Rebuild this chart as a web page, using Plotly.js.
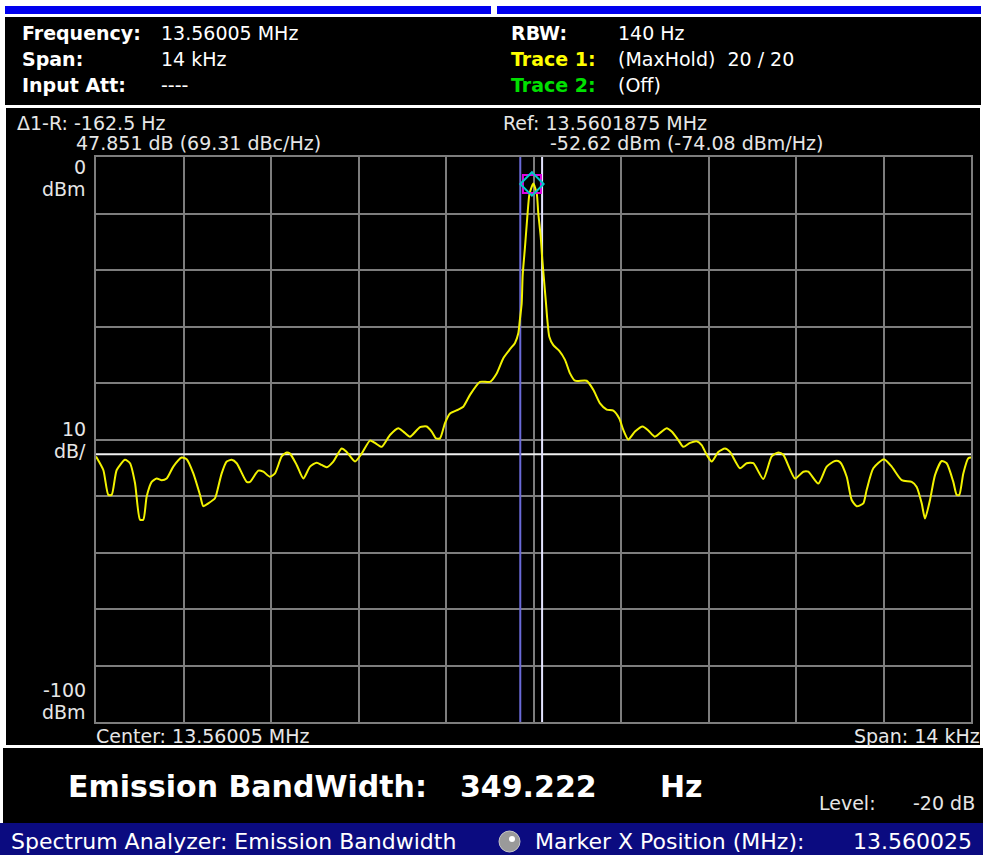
<!DOCTYPE html>
<html><head><meta charset="utf-8">
<script src="https://cdn.plot.ly/plotly-3.0.1.min.js"></script>
<style>html,body{margin:0;padding:0;background:#ffffff;}#chart{width:983px;height:855px;}</style>
</head><body><div id="chart"></div><script>
// ---- data (frequency offset from center 13.56005 MHz, in Hz; level in dBm) ----
const freqOffsetHz = [-7000,-6883,-6803,-6749,-6669,-6536,-6456,-6376,-6296,-6243,
-6189,-6109,-6029,-5949,-5869,-5763,-5629,-5549,-5443,-5336,
-5283,-5203,-5096,-5069,-4989,-4909,-4829,-4749,-4589,-4536,
-4403,-4323,-4216,-4136,-4029,-3949,-3896,-3789,-3683,-3576,
-3469,-3389,-3309,-3203,-3069,-2989,-2856,-2749,-2616,-2536,
-2429,-2296,-2163,-2083,-1976,-1816,-1709,-1629,-1560,-1496,
-1416,-1336,-1203,-1123,-1016,-856,-696,-589,-483,-376,
-296,-243,-216,-189,-173,-136,-99,-67,-29,-3,
51,77,115,141,200,221,253,317,413,504,
584,664,851,957,1064,1171,1277,1373,1437,1517,
1624,1747,1837,1944,2051,2131,2211,2317,2397,2504,
2611,2691,2771,2851,2957,3064,3144,3304,3411,3517,
3677,3811,3917,3997,4184,4317,4397,4557,4691,4824,
4904,5011,5091,5171,5277,5331,5437,5608,5731,5891,
6051,6131,6211,6264,6344,6424,6531,6611,6717,6771,
6813,6877,6957,7000];
const traceDbm = [-53.0,-55.4,-59.8,-59.8,-55.4,-53.6,-54.2,-57.7,-64.2,-64.2,
-60.1,-57.5,-56.9,-57.2,-56.9,-54.8,-53.2,-53.5,-56.0,-59.8,
-61.8,-61.3,-60.4,-59.5,-56.0,-53.9,-53.6,-54.2,-57.5,-57.5,
-55.5,-55.7,-56.6,-56.0,-53.0,-52.3,-52.5,-54.5,-56.9,-54.8,
-54.1,-54.5,-54.9,-53.9,-51.6,-52.2,-53.9,-52.5,-50.2,-50.6,
-51.3,-49.2,-48.0,-48.6,-49.5,-47.8,-47.7,-48.6,-49.8,-49.8,
-47.1,-45.4,-44.7,-44.2,-42.1,-39.8,-39.8,-38.3,-35.6,-34.0,
-32.9,-31.2,-28.6,-25.9,-20.9,-15.9,-10.6,-6.7,-5.3,-4.7,
-6.4,-10.0,-14.1,-18.2,-25.9,-28.8,-31.8,-33.3,-34.3,-35.9,
-38.3,-39.6,-39.6,-41.2,-43.6,-44.7,-44.9,-46.3,-48.3,-50.0,
-48.6,-47.7,-48.4,-49.5,-48.6,-48.0,-48.6,-50.1,-51.3,-50.6,
-50.3,-51.0,-52.7,-53.9,-52.2,-51.6,-52.2,-55.1,-54.2,-54.2,
-57.0,-53.0,-52.3,-52.7,-56.9,-55.7,-55.7,-57.8,-54.8,-53.8,
-54.0,-56.6,-60.7,-61.8,-61.3,-58.9,-55.1,-53.5,-54.8,-57.2,
-57.5,-58.4,-61.3,-64.0,-60.7,-56.3,-53.8,-54.2,-57.5,-59.8,
-59.8,-56.0,-53.3,-53.2];
const spanHz = [-7000, 7000];
const levelRange = [-100, 0];
const refLevelDbm = -52.62;
const ebwLeftHz = -211.7;
const ebwRightHz = 137.5;
const markerHz = [-25];
const markerDbm = [-4.77];

// info texts
const infoLeftLabels = ["Frequency:", "Span:", "Input Att:"];
const infoLeftValues = ["13.56005 MHz", "14 kHz", "----"];
const infoRightLabels = ["RBW:", "Trace 1:", "Trace 2:"];
const infoRightValues = ["140 Hz", "(MaxHold)  20 / 20", "(Off)"];
const infoRightColors = ["#ffffff", "#ffff00", "#00e000"];

// ---- layout helpers (pixel -> paper) ----
const W = 983, H = 855, L = 96, R = 971, T = 157, B = 722;
const px = x => (x - L) / (R - L);
const py = y => (B - y) / (B - T);
const FONT = "DejaVu Sans, Verdana, sans-serif";

function rect(x0, y0, x1, y1, color) {
  return {type: 'rect', xref: 'paper', yref: 'paper', x0: px(x0), x1: px(x1), y0: py(y1), y1: py(y0),
          fillcolor: color, line: {width: 0}, layer: 'below'};
}
function txt(text, x, y, size, color, opts) {
  opts = opts || {};
  return Object.assign({text: text, xref: 'paper', yref: 'paper', x: px(x), y: py(y),
          xanchor: 'left', yanchor: 'middle', showarrow: false, borderpad: 0,
          font: {family: FONT, size: size, color: color}}, opts);
}

const shapes = [
  rect(5, 6, 491, 14, '#0000ee'),
  rect(497, 6, 981, 14, '#0000ee'),
  rect(5, 17, 981, 105, '#000000'),
  rect(6, 108, 980, 745, '#000000'),
  rect(3, 748, 983, 823, '#000000'),
  rect(0, 823, 983, 855, '#0b0b80'),
  {type: 'circle', xref: 'paper', yref: 'paper', x0: px(499), x1: px(520), y0: py(852), y1: py(831),
   fillcolor: '#9a9a9a', line: {color: '#c8c8c8', width: 1}, layer: 'above'},
  {type: 'circle', xref: 'paper', yref: 'paper', x0: px(509), x1: px(515), y0: py(842), y1: py(836),
   fillcolor: '#ffffff', line: {width: 0}, layer: 'above'}
];

const annotations = [];
const rowsY = [33, 59, 85];
for (let i = 0; i < 3; i++) {
  annotations.push(txt('<b>' + infoLeftLabels[i] + '</b>', 21, rowsY[i], 19, '#ffffff'));
  annotations.push(txt(infoLeftValues[i], 160, rowsY[i], 19, '#ffffff'));
  annotations.push(txt('<b>' + infoRightLabels[i] + '</b>', 510, rowsY[i], 19, infoRightColors[i]));
  annotations.push(txt(infoRightValues[i], 617, rowsY[i], 19, '#ffffff'));
}
const lc = '#e6e6e6';
annotations.push(txt('Δ1-R: -162.5 Hz', 16, 123, 19, lc));
annotations.push(txt('47.851 dB (69.31 dBc/Hz)', 75, 143, 19, lc));
annotations.push(txt('Ref: 13.5601875 MHz', 502, 123, 19, lc));
annotations.push(txt('-52.62 dBm (-74.08 dBm/Hz)', 549, 143, 19, lc));
const yLab = [['0', 167], ['dBm', 189], ['10', 429], ['dB/', 451], ['-100', 690], ['dBm', 712]];
yLab.forEach(d => annotations.push(txt(d[0], 87, d[1], 19, lc, {xanchor: 'right'})));
annotations.push(txt('Center: 13.56005 MHz', 95, 736, 19, lc));
annotations.push(txt('Span: 14 kHz', 981, 736, 19, lc, {xanchor: 'right'}));
annotations.push(txt('<b>Emission BandWidth:</b>', 67, 786, 30, '#ffffff'));
annotations.push(txt('<b>349.222</b>', 459, 786, 30, '#ffffff'));
annotations.push(txt('<b>Hz</b>', 659, 786, 30, '#ffffff'));
annotations.push(txt('Level:', 818, 803, 19, lc));
annotations.push(txt('-20 dB', 976, 803, 19, lc, {xanchor: 'right'}));
annotations.push(txt('Spectrum Analyzer: Emission Bandwidth', 10, 841, 22, '#ffffff'));
annotations.push(txt('Marker X Position (MHz):', 534, 841, 22, '#ffffff'));
annotations.push(txt('13.560025', 973, 841, 22, '#ffffff', {xanchor: 'right'}));

const traces = [
  {x: spanHz, y: [refLevelDbm, refLevelDbm], mode: 'lines', line: {color: '#f0f0f0', width: 2}, hoverinfo: 'skip'},
  {x: [ebwLeftHz, ebwLeftHz], y: levelRange, mode: 'lines', line: {color: '#6a6ad8', width: 2}, hoverinfo: 'skip'},
  {x: [ebwRightHz, ebwRightHz], y: levelRange, mode: 'lines', line: {color: '#e4e4ff', width: 2}, hoverinfo: 'skip'},
  {x: freqOffsetHz, y: traceDbm, mode: 'lines', line: {color: '#f2f200', width: 2, shape: 'spline', smoothing: 0.6}},
  {x: markerHz, y: markerDbm, mode: 'markers', marker: {symbol: 'square-open', size: 18, color: '#e000e0', line: {width: 2, color: '#e000e0'}}},
  {x: markerHz, y: markerDbm, mode: 'markers', marker: {symbol: 'diamond-open', size: 18, color: '#00c8c8', line: {width: 2, color: '#00c8c8'}}}
];

const axisCommon = {showgrid: true, gridcolor: '#7d7d7d', gridwidth: 2, zeroline: false,
  showticklabels: false, ticks: '', showline: true, linecolor: '#7d7d7d', linewidth: 2, mirror: true, fixedrange: true};

const layout = {
  width: W, height: H, autosize: false,
  margin: {l: L, r: W - R, t: T, b: H - B, pad: 0},
  paper_bgcolor: '#ffffff', plot_bgcolor: '#000000',
  showlegend: false, hovermode: false,
  xaxis: Object.assign({range: spanHz, tick0: -7000, dtick: 1400}, axisCommon),
  yaxis: Object.assign({range: levelRange, tick0: -100, dtick: 10}, axisCommon),
  shapes: shapes, annotations: annotations
};
Plotly.newPlot('chart', traces, layout, {staticPlot: true, displayModeBar: false});
</script></body></html>
